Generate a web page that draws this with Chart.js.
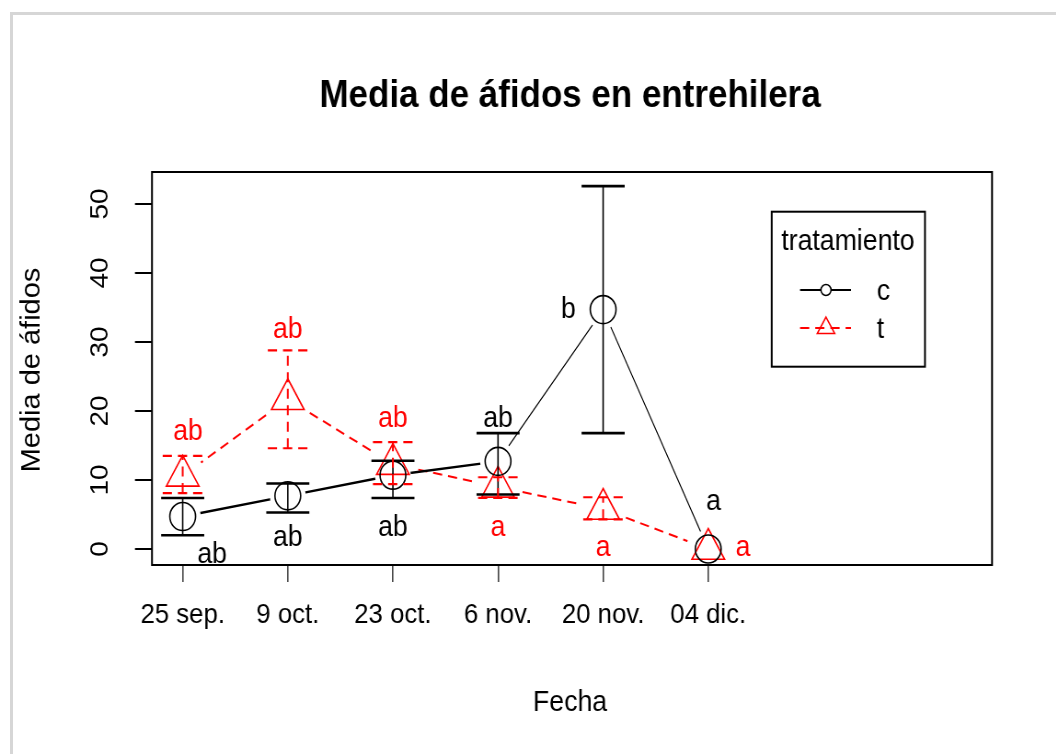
<!DOCTYPE html>
<html><head><meta charset="utf-8">
<script src="https://cdn.jsdelivr.net/npm/chart.js@4"></script>
<style>
html,body{margin:0;padding:0;background:#fff;width:1056px;height:754px;overflow:hidden}
#frame{position:absolute;left:10px;top:12px;width:1100px;height:800px;border-left:3px solid #d6d6d6;border-top:3px solid #d6d6d6}
#wrap{position:absolute;left:0;top:0;width:1148px;height:754px;transform:scaleX(0.92);transform-origin:0 0}
</style></head><body>
<div id="frame"></div>
<div id="wrap"><canvas id="c" width="1148" height="754"></canvas></div>
<script>
// ---- data ----
const FECHAS = ['25 sep.', '9 oct.', '23 oct.', '6 nov.', '20 nov.', '04 dic.'];
const POS = [1, 2, 3, 4, 5, 6];
const Y_TICKS = [0, 10, 20, 30, 40, 50];

const C_MEDIA = [4.7, 7.7, 10.7, 12.7, 34.7, 0];
const C_INF   = [2.0, 5.3, 7.4, 7.9, 16.8, null];
const C_SUP   = [7.4, 9.5, 12.8, 16.8, 52.6, null];

const T_MEDIA = [10.6, 21.7, 12.3, 9.0, 5.8, 0];
const T_INF   = [8.1, 14.6, 9.4, 7.4, 4.3, null];
const T_SUP   = [13.5, 28.8, 15.5, 10.4, 7.5, null];

// group letters (text) and their anchor positions in data units
const LETRAS_C   = ['ab', 'ab', 'ab', 'ab', 'b', 'a'];
const LETRAS_C_X = [1.28, 2, 3, 4, 4.67, 6.05];
const LETRAS_C_Y = [-0.9, 1.6, 3.0, 18.9, 34.7, 6.8];
const LETRAS_T   = ['ab', 'ab', 'ab', 'a', 'a', 'a'];
const LETRAS_T_X = [1.05, 2, 3, 4, 5, 6.33];
const LETRAS_T_Y = [17.0, 31.8, 18.9, 3.0, 0.1, 0.1];

const SERIES = ['c', 't'];
const TITULO = 'Media de áfidos en entrehilera';
const X_TITULO = 'Fecha';
const Y_TITULO = 'Media de áfidos';
const LEYENDA_TITULO = 'tratamiento';

// ---- styles ----
const FONT = '"Liberation Sans", Arial, Helvetica, sans-serif';
const RED = '#ff0000';
const pts = (ys) => ys.map((v, i) => ({x: POS[i], y: v}));

const gapClip = {
  id: 'gapClip',
  beforeDatasetDraw(chart, args) {
    const ds = chart.data.datasets[args.index];
    if (!ds.gap) return;
    const ctx = chart.ctx;
    ctx.save();
    ctx.beginPath();
    ctx.rect(0, 0, chart.width, chart.height);
    args.meta.data.forEach(p => { ctx.moveTo(p.x + ds.gap, p.y); ctx.arc(p.x, p.y, ds.gap, 0, Math.PI * 2); });
    ctx.clip('evenodd');
  },
  afterDatasetDraw(chart, args) {
    if (chart.data.datasets[args.index].gap) chart.ctx.restore();
  }
};

const decor = {
  id: 'decor',
  afterDatasetsDraw(chart) {
    const {ctx, scales: {x, y}} = chart;
    ctx.save();
    const bars = (lo, hi, color, vw, cw, half, dash) => {
      lo.forEach((l, i) => {
        const h = hi[i];
        if (l == null || h == null) return;
        const px = x.getPixelForValue(POS[i]);
        const yl = y.getPixelForValue(l), yh = y.getPixelForValue(h);
        ctx.strokeStyle = color;
        ctx.setLineDash(dash);
        ctx.lineWidth = vw;
        ctx.beginPath(); ctx.moveTo(px, yl); ctx.lineTo(px, yh); ctx.stroke();
        ctx.lineWidth = cw;
        ctx.beginPath();
        ctx.moveTo(px - half, yl); ctx.lineTo(px + half, yl);
        ctx.moveTo(px - half, yh); ctx.lineTo(px + half, yh);
        ctx.stroke();
      });
    };
    bars(C_INF, C_SUP, '#000', 1.6, 2.6, 23.4, []);
    bars(T_INF, T_SUP, RED, 2, 2.2, 21.7, [10, 6.5]);
    ctx.restore();
  },
  afterDraw(chart) {
    const {ctx, chartArea: a, scales: {x, y}} = chart;
    ctx.save();
    // plot box
    ctx.strokeStyle = '#000';
    ctx.lineWidth = 2;
    ctx.strokeRect(a.left, a.top, a.right - a.left, a.bottom - a.top);
    // group letters
    ctx.font = `29px ${FONT}`;
    ctx.textAlign = 'center';
    ctx.textBaseline = 'middle';
    ctx.fillStyle = '#000';
    LETRAS_C.forEach((t, i) => ctx.fillText(t, x.getPixelForValue(LETRAS_C_X[i]), y.getPixelForValue(LETRAS_C_Y[i])));
    ctx.fillStyle = RED;
    LETRAS_T.forEach((t, i) => ctx.fillText(t, x.getPixelForValue(LETRAS_T_X[i]), y.getPixelForValue(LETRAS_T_Y[i])));
    // titles
    ctx.fillStyle = '#000';
    ctx.font = `bold 38px ${FONT}`;
    ctx.fillText(TITULO, 619.6, 97);
    ctx.font = `29px ${FONT}`;
    ctx.fillText(X_TITULO, 619.6, 703);
    ctx.save();
    ctx.translate(34.8, 370);
    ctx.rotate(-Math.PI / 2);
    ctx.fillText(Y_TITULO, 0, 0);
    ctx.restore();
    // legend
    ctx.lineWidth = 2;
    ctx.strokeStyle = '#000';
    ctx.setLineDash([]);
    ctx.strokeRect(838.8, 211.7, 166.6, 155);
    ctx.fillText(LEYENDA_TITULO, 921.7, 242);
    ctx.textAlign = 'left';
    // c sample
    ctx.beginPath(); ctx.moveTo(869.6, 290); ctx.lineTo(925, 290); ctx.stroke();
    ctx.fillStyle = '#fff';
    ctx.beginPath(); ctx.arc(897.8, 290, 5.5, 0, Math.PI * 2); ctx.fill();
    ctx.lineWidth = 1.5; ctx.stroke();
    ctx.fillStyle = '#000';
    ctx.fillText(SERIES[0], 953, 292);
    // t sample
    ctx.strokeStyle = RED; ctx.lineWidth = 2; ctx.setLineDash([10, 6.5]);
    ctx.beginPath(); ctx.moveTo(869.6, 328); ctx.lineTo(925, 328); ctx.stroke();
    ctx.setLineDash([]); ctx.lineWidth = 1.5;
    const r = 11, cx = 897.8, cy = 328;
    ctx.beginPath();
    ctx.moveTo(cx, cy - r);
    ctx.lineTo(cx + r * Math.sqrt(3) / 2, cy + r / 2);
    ctx.lineTo(cx - r * Math.sqrt(3) / 2, cy + r / 2);
    ctx.closePath(); ctx.stroke();
    ctx.fillStyle = '#000';
    ctx.fillText(SERIES[1], 953, 330);
    ctx.restore();
  }
};

new Chart(document.getElementById('c'), {
  type: 'line',
  data: {
    datasets: [
      { label: SERIES[0], data: pts(C_MEDIA), borderColor: '#000', pointRadius: 0, gap: 19.5,
        borderWidth: 2.5, segment: { borderWidth: c => c.p0DataIndex >= 3 ? 1.2 : 2.5 } },
      { label: SERIES[1], data: pts(T_MEDIA), borderColor: RED, pointRadius: 0, gap: 24,
        borderWidth: 2, borderDash: [10, 6.5] },
      { label: SERIES[0], data: pts(C_MEDIA), showLine: false, pointStyle: 'circle', pointRadius: 14,
        pointBorderColor: '#000', pointBackgroundColor: 'rgba(0,0,0,0)', pointBorderWidth: 1.6 },
      { label: SERIES[1], data: pts(T_MEDIA), showLine: false, pointStyle: 'triangle', pointRadius: 20.5,
        pointBorderColor: RED, pointBackgroundColor: 'rgba(0,0,0,0)', pointBorderWidth: 1.6 }
    ]
  },
  options: {
    responsive: false,
    animation: false,
    devicePixelRatio: 1,
    layout: { padding: { left: 0, right: 69.7, top: 172, bottom: 89 } },
    plugins: { legend: { display: false }, tooltip: { enabled: false }, title: { display: false } },
    scales: {
      x: {
        type: 'linear', position: 'bottom', min: 0.708, max: 8.70,
        afterBuildTicks: s => { s.ticks = POS.map(v => ({ value: v })); },
        afterFit: s => { s.height = 100; },
        grid: { drawOnChartArea: false, drawTicks: true, tickLength: 17, color: '#444', lineWidth: 1.6 },
        border: { display: false },
        ticks: { autoSkip: false, maxRotation: 0, minRotation: 0, padding: 16, color: '#000',
          font: { family: FONT, size: 28 }, callback: v => FECHAS[v - 1] }
      },
      y: {
        type: 'linear', position: 'left', min: -2.32, max: 54.64,
        afterBuildTicks: s => { s.ticks = Y_TICKS.map(v => ({ value: v })); },
        afterFit: s => { s.width = 165.2; },
        grid: { drawOnChartArea: false, drawTicks: true, tickLength: 18.5, color: '#000', lineWidth: 2 },
        border: { display: false },
        ticks: { minRotation: 90, maxRotation: 90, crossAlign: 'center', padding: 22, color: '#000',
          font: { family: FONT, size: 28 }, callback: v => String(v) }
      }
    }
  },
  plugins: [gapClip, decor]
});
</script>
</body></html>
